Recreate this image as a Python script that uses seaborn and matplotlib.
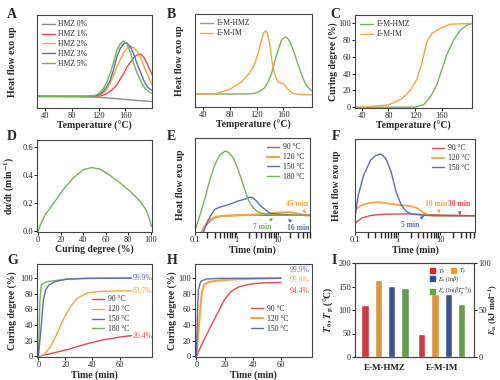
import numpy as np
import pandas as pd
import seaborn as sns
import matplotlib
matplotlib.use('Agg')
import matplotlib.pyplot as plt
from matplotlib.patches import Patch
from matplotlib.ticker import FixedLocator, FixedFormatter, NullFormatter

sns.set_theme(style='ticks')
plt.rcParams['font.family'] = ['Liberation Serif', 'DejaVu Serif']
plt.rcParams['mathtext.fontset'] = 'stix'

RED = '#e8474c'
ORANGE = '#f8a53e'
BLUE = '#5b6db8'
GREEN = '#72b555'
GRAY = '#8c8c8c'

# ---- A: DSC curves, HMZ content ----
a_temp = [28, 80, 105, 112, 118, 122.5, 127.5, 132.5, 137.5, 142.5, 147.5, 152.5,
          157.5, 162.5, 167.5, 172.5, 177.5, 182.5, 187.5, 192.5, 197.5, 200]
a_gray_temp = [28, 60, 100, 120, 140, 160, 180, 200]
a_gray = [0.125, 0.123, 0.12, 0.115, 0.105, 0.092, 0.08, 0.07]
a_red = [0.125, 0.125, 0.125, 0.125, 0.127, 0.13, 0.14, 0.155, 0.18, 0.21, 0.25, 0.31,
         0.37, 0.44, 0.49, 0.54, 0.57, 0.58, 0.55, 0.48, 0.40, 0.36]
a_orange = [0.125, 0.125, 0.125, 0.127, 0.13, 0.14, 0.16, 0.2, 0.27, 0.35, 0.44, 0.52,
            0.59, 0.64, 0.66, 0.65, 0.61, 0.55, 0.46, 0.37, 0.29, 0.25]
a_blue = [0.125, 0.125, 0.125, 0.128, 0.135, 0.15, 0.18, 0.23, 0.30, 0.41, 0.55, 0.64,
          0.69, 0.70, 0.66, 0.58, 0.48, 0.39, 0.30, 0.23, 0.20, 0.19]
a_green = [0.125, 0.125, 0.125, 0.13, 0.145, 0.17, 0.21, 0.28, 0.37, 0.49, 0.62, 0.69,
           0.72, 0.69, 0.60, 0.48, 0.38, 0.30, 0.23, 0.19, 0.165, 0.16]

# ---- B: DSC curves ----
b_temp_im = [28, 57.5, 80, 97.5, 110, 117, 122, 127, 130.5, 133.5, 136.5, 140, 143, 147,
             152, 157, 160, 165, 170, 175, 185, 203]
b_im = [0.14, 0.14, 0.19, 0.27, 0.37, 0.46, 0.57, 0.71, 0.79, 0.82, 0.79, 0.66, 0.50, 0.35,
        0.27, 0.255, 0.25, 0.21, 0.17, 0.145, 0.135, 0.13]
b_temp_hmz = [28, 107.5, 115, 122.5, 127.5, 132.5, 137.5, 142.5, 146, 150, 154, 157.5, 160,
              163.5, 166.5, 170, 173.5, 177.5, 181, 185, 188.5, 192.5, 196, 200, 203]
b_hmz = [0.14, 0.14, 0.145, 0.16, 0.18, 0.21, 0.27, 0.36, 0.46, 0.56, 0.65, 0.72, 0.74,
         0.75, 0.74, 0.70, 0.64, 0.56, 0.48, 0.40, 0.33, 0.26, 0.22, 0.19, 0.17]

# ---- C: curing degree vs temperature ----
c_temp_im = [30, 40, 80, 100, 112.5, 122.5, 130, 137.5, 145, 157.5, 172.5, 205]
c_im = [0, 0, 2.7, 10, 20, 33, 53, 78, 88, 94, 99, 100]
c_temp_hmz = [30, 120, 132.5, 142.5, 152.5, 160, 167.5, 177.5, 187.5, 197.5, 205]
c_hmz = [0, 0, 3, 12, 27, 45, 63, 80, 92, 98, 100]

# ---- D: rate vs curing degree ----
d_alpha = [0, 2, 6.4, 13.7, 22.5, 31, 40, 47.4, 54.7, 63.5, 72, 81, 90, 95.6, 98.5, 100.5]
d_rate = [0.0, 0.047, 0.12, 0.20, 0.30, 0.38, 0.44, 0.455, 0.445, 0.40, 0.35, 0.29, 0.22,
          0.155, 0.095, 0.035]

# ---- E: isothermal DSC ----
e_t90 = [0.145, 0.17, 0.21, 0.25, 0.30, 0.37, 0.44, 0.6, 0.93, 2, 5, 10, 20, 40, 60]
e_90 = [0.0, 0.05, 0.096, 0.13, 0.15, 0.162, 0.167, 0.172, 0.177, 0.178, 0.178, 0.178,
        0.178, 0.178, 0.178]
e_t120 = [0.145, 0.17, 0.21, 0.25, 0.30, 0.37, 0.44, 0.64, 1.0, 2, 4, 7, 10.3, 14, 18, 25,
          31.5, 38, 45, 52, 60]
e_120 = [0.0, 0.06, 0.11, 0.14, 0.156, 0.166, 0.17, 0.174, 0.178, 0.182, 0.19, 0.198, 0.205,
         0.208, 0.21, 0.205, 0.195, 0.185, 0.178, 0.177, 0.177]
e_t150 = [0.16, 0.18, 0.21, 0.25, 0.30, 0.37, 0.44, 0.64, 0.85, 1.11, 1.6, 2.14, 2.5, 2.8,
          3.2, 3.6, 4.2, 4.9, 5.6, 6.5, 8, 9.8, 14, 21.7, 30, 60]
e_150 = [0.0, 0.06, 0.13, 0.19, 0.24, 0.26, 0.27, 0.29, 0.31, 0.33, 0.35, 0.37, 0.365,
         0.345, 0.32, 0.29, 0.265, 0.24, 0.22, 0.20, 0.193, 0.19, 0.185, 0.178, 0.178, 0.178]
e_t180 = [0.1, 0.132, 0.174, 0.23, 0.305, 0.40, 0.53, 0.64, 0.84, 1.11, 1.47, 1.94, 2.57,
          3.4, 4.9, 7.8, 60]
e_180 = [0.015, 0.18, 0.36, 0.56, 0.72, 0.82, 0.86, 0.85, 0.79, 0.66, 0.50, 0.34, 0.255,
         0.21, 0.19, 0.18, 0.177]

# ---- F: isothermal DSC ----
f_t90 = [0.1, 0.145, 0.23, 0.44, 1.6, 4.06, 14.8, 65]
f_90 = [0.096, 0.15, 0.177, 0.19, 0.195, 0.188, 0.18, 0.174]
f_t120 = [0.1, 0.145, 0.23, 0.37, 0.64, 1.11, 1.94, 2.8, 3.7, 4.9, 7.1, 65]
f_120 = [0.24, 0.29, 0.315, 0.32, 0.305, 0.29, 0.28, 0.26, 0.22, 0.185, 0.174, 0.174]
f_t150 = [0.1, 0.11, 0.12, 0.159, 0.23, 0.30, 0.40, 0.53, 0.70, 0.92, 1.21, 1.6, 2.3, 5.3, 65]
f_150 = [0.15, 0.29, 0.40, 0.61, 0.77, 0.82, 0.84, 0.79, 0.65, 0.43, 0.29, 0.22, 0.19,
         0.177, 0.174]

# ---- G: curing degree vs time ----
g_t180 = [0, 1.2, 2.2, 5.4, 11.6, 21.5, 34, 69]
g_180 = [0, 72, 91.5, 95, 96.6, 98.7, 99.6, 100]
g_t150 = [0, 1.7, 3.7, 5.4, 7.9, 12.9, 21.5, 36, 69]
g_150 = [0, 30, 72, 85, 91.5, 95.7, 98.7, 99.6, 99.9]
g_t120 = [0, 4.2, 9.2, 14.1, 19, 24, 29, 36.4, 46.3, 60, 69]
g_120 = [0, 2, 12.8, 30, 49, 64, 74.5, 81, 83, 83.6, 83.7]
g_t90 = [0, 9.2, 21.5, 34, 46.3, 60, 69]
g_90 = [0, 3.4, 8.5, 15, 20.4, 24.5, 26.4]

# ---- H: curing degree vs time ----
h_t150 = [0, 0.7, 1.4, 3.1, 6.7, 16, 60]
h_150 = [0, 51, 85, 95.7, 98.7, 99.6, 99.9]
h_t120 = [0, 1.9, 3.8, 5.5, 9, 16, 30.5, 60]
h_120 = [0, 42.5, 81, 91.5, 95, 97, 98.7, 99.9]
h_t90 = [0, 4.3, 9, 13.8, 19.8, 24.5, 30.5, 40, 49.5, 60]
h_90 = [0, 17, 34, 51, 72, 83, 89, 92.8, 94, 94.4]

# ---- I: bars ----
i_groups = ['E-M-HMZ', 'E-M-IM']
i_t0 = [110, 50]
i_tp = [164, 133]
i_ea_a = [76, 67]
i_ea_b = [73, 56]

temps4 = ['90 °C', '120 °C', '150 °C', '180 °C']


def rect(l, t, r, b):
    return [l / 500, 1 - b / 380, (r - l) / 500, (b - t) / 380]


fig = plt.figure(figsize=(5, 3.8), dpi=100)
LBL = dict(fontsize=7, fontweight='bold')
LEG = dict(frameon=False, prop={'size': 5.5}, handlelength=1.6, handletextpad=0.5,
           labelspacing=0.25, borderaxespad=0.3)


def style(ax, letter, lx, ly, yticks=True):
    for s in ax.spines.values():
        s.set_color('#444444')
        s.set_linewidth(0.8)
    ax.tick_params(labelsize=6, length=2, width=0.7, pad=1, colors='#222222')
    if not yticks:
        ax.set_yticks([])
    ax.xaxis.set_label_coords(0.5, -0.14)
    if letter:
        fig.text(lx / 500, 1 - ly / 380, letter, fontsize=10, fontweight='bold',
                 ha='left', va='center')


def line(ax, x, y, color, label=None, lw=1.0, z=2):
    sns.lineplot(x=x, y=y, color=color, label=label, lw=lw, ax=ax, zorder=z)


# A
ax = fig.add_axes(rect(37, 15, 152, 108))
line(ax, a_gray_temp, a_gray, GRAY, 'HMZ 0%')
line(ax, a_temp, a_red, RED, 'HMZ 1%')
line(ax, a_temp, a_orange, ORANGE, 'HMZ 2%')
line(ax, a_temp, a_blue, BLUE, 'HMZ 3%')
line(ax, a_temp, a_green, GREEN, 'HMZ 5%')
ax.set_xlim(28, 200)
ax.set_ylim(0, 1)
ax.set_xticks([40, 80, 120, 160])
ax.set_xlabel('Temperature (°C)', **LBL)
ax.set_ylabel('Heat flow exo up', **LBL)
ax.yaxis.set_label_coords(-0.178, 0.5)
ax.legend(loc='upper left', **LEG)
style(ax, 'A', 7, 15, yticks=False)

# B
ax = fig.add_axes(rect(195, 14, 312, 107))
line(ax, b_temp_hmz, b_hmz, GREEN, 'E-M-HMZ')
line(ax, b_temp_im, b_im, ORANGE, 'E-M-IM')
ax.set_xlim(28, 203)
ax.set_ylim(0, 1)
ax.set_xticks([40, 80, 120, 160])
ax.set_xlabel('Temperature (°C)', **LBL)
ax.set_ylabel('Heat flow exo up', **LBL)
ax.yaxis.set_label_coords(-0.09, 0.5)
ax.legend(loc='upper left', **LEG)
style(ax, 'B', 167, 15, yticks=False)

# C
ax = fig.add_axes(rect(355, 15, 472, 108))
line(ax, c_temp_hmz, c_hmz, GREEN, 'E-M-HMZ')
line(ax, c_temp_im, c_im, ORANGE, 'E-M-IM')
ax.set_xlim(30, 205)
ax.set_ylim(-1, 110)
ax.set_xticks([40, 80, 120, 160])
ax.set_yticks([0, 20, 40, 60, 80, 100])
ax.set_xlabel('Temperature (°C)', **LBL)
ax.set_ylabel('Curing degree (%)', **LBL)
ax.yaxis.set_label_coords(-0.145, 0.5)
ax.legend(loc='upper left', **LEG)
style(ax, 'C', 330, 15)

# D
ax = fig.add_axes(rect(37, 140, 152, 232))
line(ax, d_alpha, d_rate, GREEN)
ax.set_xlim(-1, 101)
ax.set_ylim(-0.005, 0.652)
ax.set_xticks([0, 20, 40, 60, 80, 100])
ax.set_yticks([0.0, 0.2, 0.4, 0.6])
ax.set_yticklabels(['0.0', '0.2', '0.4', '0.6'])
ax.set_xlabel('Curing degree (%)', **LBL)
ax.set_ylabel('dα/dt (min$^{\\mathbf{-1}}$)', **LBL)
ax.yaxis.set_label_coords(-0.17, 0.5)
style(ax, 'D', 7, 137)

# E
ax = fig.add_axes(rect(195, 138, 310, 232))
line(ax, e_t90, e_90, RED, temps4[0])
line(ax, e_t120, e_120, ORANGE, temps4[1], lw=1.6)
line(ax, e_t150, e_150, BLUE, temps4[2])
line(ax, e_t180, e_180, GREEN, temps4[3])
ax.set_xscale('log')
ax.set_xlim(0.1, 60)
ax.set_ylim(0, 1)
ax.xaxis.set_major_locator(FixedLocator([0.1, 1, 10]))
ax.xaxis.set_major_formatter(FixedFormatter(['0.1', '1', '10']))
ax.xaxis.set_minor_formatter(NullFormatter())
ax.set_xlabel('Time (min)', **LBL)
ax.set_ylabel('Heat flow exo up', **LBL)
ax.yaxis.set_label_coords(-0.09, 0.5)
ax.legend(loc='upper right', **LEG)
ann = dict(fontsize=5.5, fontweight='bold', ha='center', va='center')
ax.annotate('45 min', xy=(48, 0.20), xytext=(29, 0.30), color=ORANGE,
            arrowprops=dict(arrowstyle='-|>', color=ORANGE, lw=0.8, mutation_scale=4), **ann)
ax.annotate('7 min', xy=(7.7, 0.15), xytext=(4.1, 0.055), color=GREEN,
            arrowprops=dict(arrowstyle='-|>', color=GREEN, lw=0.8, mutation_scale=4), **ann)
ax.annotate('16 min', xy=(17.7, 0.14), xytext=(30.8, 0.045), color=BLUE,
            arrowprops=dict(arrowstyle='-|>', color=BLUE, lw=0.8, mutation_scale=4), **ann)
style(ax, 'E', 167, 137, yticks=False)

# F
ax = fig.add_axes(rect(355, 139, 475, 232))
line(ax, f_t90, f_90, RED, temps4[0])
line(ax, f_t120, f_120, ORANGE, temps4[1], lw=1.3)
line(ax, f_t150, f_150, BLUE, temps4[2])
ax.set_xscale('log')
ax.set_xlim(0.1, 65)
ax.set_ylim(0, 1)
ax.xaxis.set_major_locator(FixedLocator([0.1, 1, 10]))
ax.xaxis.set_major_formatter(FixedFormatter(['0.1', '1', '10']))
ax.xaxis.set_minor_formatter(NullFormatter())
ax.set_xlabel('Time (min)', **LBL)
ax.set_ylabel('Heat flow exo up', **LBL)
ax.yaxis.set_label_coords(-0.113, 0.5)
ax.legend(loc='upper right', **LEG)
ax.annotate('5 min', xy=(4.1, 0.17), xytext=(1.95, 0.075), color=BLUE,
            arrowprops=dict(arrowstyle='-|>', color=BLUE, lw=0.8, mutation_scale=4), **ann)
ax.annotate('10 min', xy=(9.8, 0.20), xytext=(7.9, 0.30), color=ORANGE,
            arrowprops=dict(arrowstyle='-|>', color=ORANGE, lw=0.8, mutation_scale=4), **ann)
ax.annotate('30 min', xy=(29, 0.18), xytext=(27.4, 0.30), color=RED,
            arrowprops=dict(arrowstyle='-|>', color=RED, lw=0.8, mutation_scale=4), **ann)
style(ax, 'F', 332, 137, yticks=False)

# G
ax = fig.add_axes(rect(37, 264, 152, 357))
line(ax, g_t90, g_90, RED, temps4[0])
line(ax, g_t120, g_120, ORANGE, temps4[1])
line(ax, g_t150, g_150, BLUE, temps4[2], z=3)
line(ax, g_t180, g_180, GREEN, temps4[3], z=2)
ax.set_xlim(-1, 84)
ax.set_ylim(-1, 118)
ax.set_xticks([0, 20, 40, 60])
ax.set_yticks([0, 20, 40, 60, 80, 100])
ax.set_xlabel('Time (min)', **LBL)
ax.set_ylabel('Curing degree (%)', **LBL)
ax.yaxis.set_label_coords(-0.178, 0.5)
ax.legend(loc='upper left', bbox_to_anchor=(0.43, 0.72), **LEG)
pct = dict(fontsize=5.5, ha='left', va='center')
ax.text(69.5, g_150[-1], '99.9%', color=BLUE, **pct)
ax.text(69.5, g_120[-1], '83.7%', color=ORANGE, **pct)
ax.text(69.5, g_90[-1], '26.4%', color=RED, **pct)
style(ax, 'G', 7, 261)

# H
ax = fig.add_axes(rect(195, 264, 312, 357))
line(ax, h_t90, h_90, RED, temps4[0])
line(ax, h_t120, h_120, ORANGE, temps4[1], lw=1.5)
line(ax, h_t150, h_150, BLUE, temps4[2])
ax.set_xlim(-1, 82)
ax.set_ylim(-1, 118)
ax.set_xticks([0, 20, 40, 60])
ax.set_yticks([0, 20, 40, 60, 80, 100])
ax.set_xlabel('Time (min)', **LBL)
ax.set_ylabel('Curing degree (%)', **LBL)
ax.yaxis.set_label_coords(-0.155, 0.5)
ax.legend(loc='upper left', bbox_to_anchor=(0.43, 0.62), **LEG)
ax.text(66.5, 110, '99.9%', color=BLUE, **pct)
ax.text(66.5, 97, '99.9%', color=ORANGE, **pct)
ax.text(66.5, 84, '94.4%', color=RED, **pct)
style(ax, 'H', 167, 261)

# I
BAR_RED = '#e3232b'
BAR_ORANGE = '#f39a22'
BAR_BLUE = '#2f4d9e'
BAR_GREEN = '#62a83f'
hue_order = ['T0', 'Tp', 'Ea1', 'Ea2']
pal = {'T0': BAR_RED, 'Tp': BAR_ORANGE, 'Ea1': BAR_BLUE, 'Ea2': BAR_GREEN}
df_left = pd.DataFrame({'group': i_groups * 2, 'series': ['T0'] * 2 + ['Tp'] * 2,
                        'value': i_t0 + i_tp})
df_right = pd.DataFrame({'group': i_groups * 2, 'series': ['Ea1'] * 2 + ['Ea2'] * 2,
                         'value': i_ea_a + i_ea_b})
ax = fig.add_axes(rect(355, 263, 474, 357))
sns.barplot(data=df_left, x='group', y='value', hue='series', hue_order=hue_order,
            order=i_groups, palette=pal, width=0.94, gap=0.45, legend=False, ax=ax)
ax2 = ax.twinx()
sns.barplot(data=df_right, x='group', y='value', hue='series', hue_order=hue_order,
            order=i_groups, palette=pal, width=0.94, gap=0.45, legend=False, ax=ax2)
for a in (ax, ax2):
    a.set_xlim(-0.53, 1.57)
ax.set_ylim(0, 200)
ax2.set_ylim(0, 100)
ax.set_yticks([0, 50, 100, 150, 200])
ax2.set_yticks([0, 50, 100])
ax.set_xlabel('')
ax2.set_xlabel('')
ax.set_ylabel(r'$\mathbfit{T}_\mathbf{0}$, $\mathbfit{T}_\mathbf{p}$ (°C)', **LBL)
ax2.set_ylabel(r'$\mathbfit{E}_\mathbf{a}$ (kJ mol$^{\mathbf{-1}}$)', fontsize=6,
               fontweight='bold')
ax.yaxis.set_label_coords(-0.165, 0.5)
style(ax, 'I', 332, 261)
style(ax2, '', 0, 0)
ax2.yaxis.set_label_coords(1.11, 0.5)
ax.tick_params(axis='x', length=0, pad=5)
ax.set_xticks([0, 1])
ax.set_xticklabels(i_groups, fontsize=6.5, fontweight='bold')
ileg = dict(frameon=False, prop={'size': 4.3}, handlelength=0.9, handleheight=0.9,
            handletextpad=0.4, labelspacing=0.2, borderaxespad=0.2, columnspacing=1.0)
leg1 = ax2.legend(handles=[Patch(color=BAR_RED, label=r'$T_0$'),
                           Patch(color=BAR_ORANGE, label=r'$T_p$')],
                  ncol=2, loc='upper left', bbox_to_anchor=(0.6, 1.0), **ileg)
ax2.add_artist(leg1)
ax2.legend(handles=[Patch(color=BAR_BLUE, label=r'$E_a$ (ln$\beta$)'),
                    Patch(color=BAR_GREEN, label=r'$E_a$ (ln($\beta T_p^{-2}$))')],
           loc='upper left', bbox_to_anchor=(0.6, 0.915), **ileg)

fig.savefig('out.png', dpi=100)
